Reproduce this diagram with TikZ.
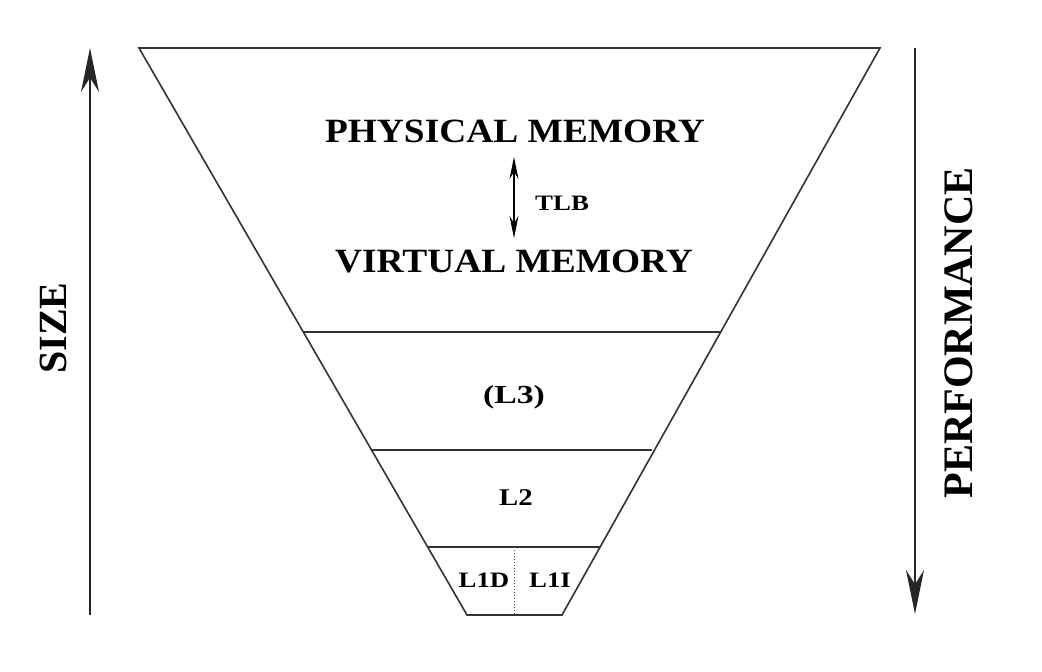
\documentclass[tikz,border=0pt]{standalone}
\usepackage{fontspec}
\setmainfont{Liberation Serif}
\usetikzlibrary{arrows.meta}
\tikzstyle{lbl}=[inner sep=0pt]
\tikzstyle{axisarrow}=[line width=2.2pt,black!85,-{Stealth[length=44pt,width=18pt]}]
\tikzstyle{level}=[line width=1.6pt,black!80]
\newcommand{\wide}[2]{\scalebox{#1}[1]{#2}}

\begin{document}
\begin{tikzpicture}[x=1pt,y=-1pt]
\useasboundingbox (0,0) rectangle (1042,672);
%pyramid
\draw[level] (139,48) -- (880,48) -- (562,615) -- (467,615) -- cycle;
\draw[level] (304,332) -- (720,332)
(372,450) -- (652,450)
(428,547) -- (600,547);
\draw[line width=1pt,black!70,dotted] (514,547) -- (514,615);
%labels
\node[lbl,font=\bfseries\fontsize{34}{36}\selectfont] (phys) at (515,131) {\wide{1.1}{PHYSICAL MEMORY}};
\node[lbl,font=\bfseries\fontsize{34}{36}\selectfont] (virt) at (514,261) {\wide{1.1}{VIRTUAL MEMORY}};
\node[lbl,font=\bfseries\fontsize{22}{24}\selectfont,anchor=west] (tlb) at (535,203) {\wide{1.22}{TLB}};
\node[lbl,font=\bfseries\fontsize{26}{28}\selectfont] (l3) at (514,397) {\wide{1.3}{(L3)}};
\node[lbl,font=\bfseries\fontsize{24}{26}\selectfont] (l2) at (516,498) {\wide{1.2}{L2}};
\node[lbl,font=\bfseries\fontsize{22}{24}\selectfont] (l1d) at (484,580) {\wide{1.22}{L1D}};
\node[lbl,font=\bfseries\fontsize{22}{24}\selectfont] (l1i) at (550,580) {\wide{1.22}{L1I}};
\coordinate (tlbtop) at (514,157);
\coordinate (tlbbot) at (514,238);
\draw[line width=1.3pt,{Stealth[length=22pt,width=9pt]}-{Stealth[length=22pt,width=9pt]}] (tlbtop) -- (tlbbot);
%side arrows
\coordinate (sizebot) at (90,615);
\coordinate (sizetop) at (90,48);
\coordinate (perftop) at (915,48);
\coordinate (perfbot) at (915,614);
\draw[axisarrow] (sizebot) -- (sizetop);
\draw[axisarrow] (perftop) -- (perfbot);
\node[lbl,font=\bfseries\fontsize{40}{42}\selectfont,rotate=90] (size) at (53,328) {SIZE};
\node[lbl,font=\bfseries\fontsize{42}{44}\selectfont,rotate=90] (perf) at (959,333) {PERFORMANCE};
\end{tikzpicture}
\end{document}
